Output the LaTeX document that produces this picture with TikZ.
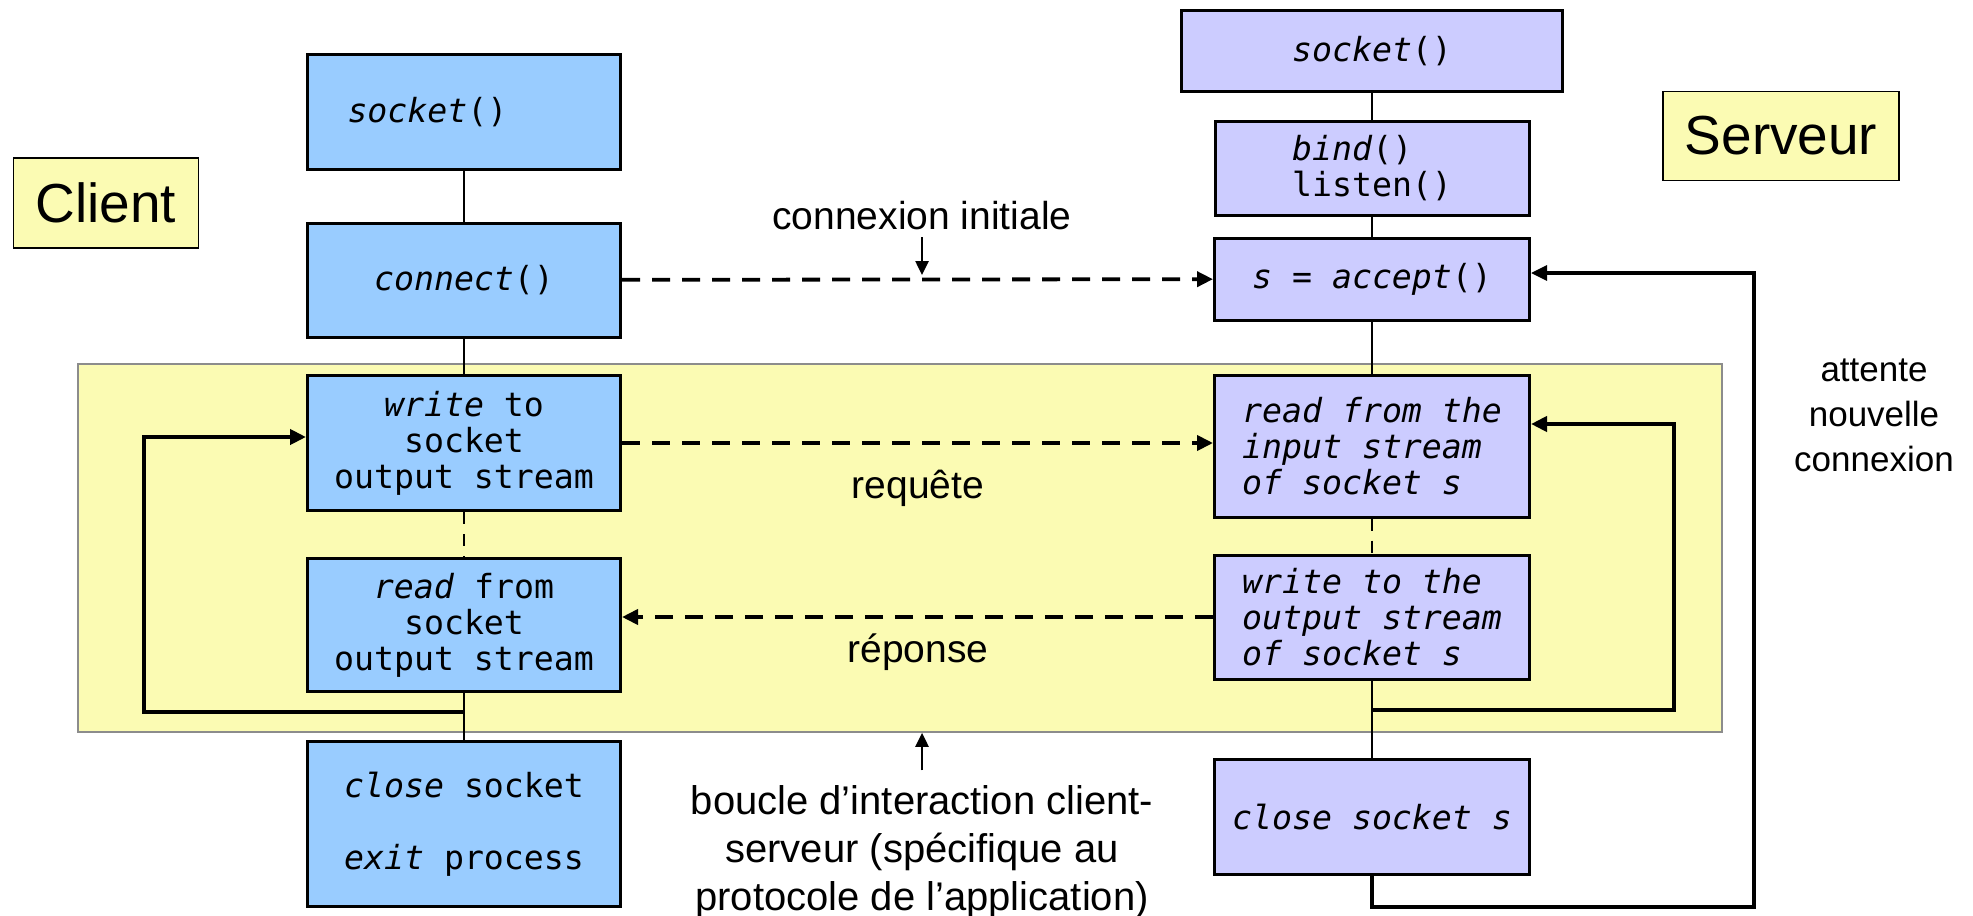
\documentclass[tikz,border=0pt]{standalone}
\usepackage{fontspec}
\setmainfont{Liberation Sans}
\newfontfamily\boxfont{DejaVu Sans Mono}
\usetikzlibrary{arrows.meta}
\definecolor{clientblue}{HTML}{99CCFF}
\definecolor{serverblue}{HTML}{CCCCFF}
\definecolor{loopyellow}{HTML}{FBFBB3}

\begin{document}
\begin{tikzpicture}[x=0.5pt,y=-0.5pt,
    box/.style={draw,line width=1.5pt,inner sep=0pt,align=center,
      font=\boxfont\fontsize{16.6}{18}\selectfont},
    cbox/.style={box,fill=clientblue,minimum width=156.5pt},
    sbox/.style={box,fill=serverblue,minimum width=157.5pt},
    tag/.style={draw,line width=0.8pt,fill=loopyellow,inner sep=0pt,
      font=\fontsize{27.5}{30}\selectfont},
    link/.style={line width=1.3pt},
    dlink/.style={line width=0.9pt,dash pattern=on 6pt off 5pt},
    msg/.style={line width=1.9pt,dash pattern=on 9pt off 6pt,
      -{Triangle[length=8pt,width=7.5pt]}},
    back/.style={line width=2pt,-{Triangle[length=8pt,width=7.5pt]}},
    lbl/.style={font=\fontsize{19.5}{23}\selectfont,align=center}]

  \useasboundingbox (0,0) rectangle (1973,915);

  \node[draw=black!45,line width=0.8pt,fill=loopyellow,
    minimum width=822pt,minimum height=184pt] (boucle) at (900,548) {};

  \node[tag,minimum width=92.5pt,minimum height=45pt] (client) at (106,203) {Client};
  \node[tag,minimum width=118pt,minimum height=44.5pt] (serveur) at (1781,136) {Serveur};

  % client
  \node[cbox,minimum height=57.5pt,text width=116.5pt,align=left] (csock) at (464,112) {\textit{socket}()};
  \node[cbox,minimum height=57pt] (ccon) at (464,280) {\textit{connect}()};
  \node[cbox,minimum height=67.5pt] (cwr) at (464,443) {\textit{write} to\\socket\\output stream};
  \node[cbox,minimum height=66.5pt] (crd) at (464,625) {\textit{read} from\\socket\\output stream};
  \node[cbox,minimum height=82.5pt] (ccl) at (464,824) {\textit{close} socket\\[18pt]\textit{exit} process};

  % serveur
  \node[sbox,minimum width=190.5pt,minimum height=40.5pt] (ssock) at (1372,51) {\textit{socket}()};
  \node[sbox,minimum width=157pt,minimum height=47pt,align=left] (sbind) at (1372,168) {\textit{bind}()\\listen()};
  \node[sbox,minimum height=41pt] (sacc) at (1372,279) {\textit{s = accept}()};
  \node[sbox,minimum height=71pt,align=left] (srd) at (1372,446) {\textit{read from the}\\\textit{input stream}\\\textit{of socket s}};
  \node[sbox,minimum height=62pt,align=left] (swr) at (1372,617) {\textit{write to the}\\\textit{output stream}\\\textit{of socket s}};
  \node[sbox,minimum height=57.5pt] (scl) at (1372,817) {\textit{close socket s}};

  \draw[link] (csock) -- (ccon);
  \draw[link] (ccon) -- (cwr);
  \draw[dlink] (cwr) -- (crd);
  \draw[link] (crd) -- (ccl);

  \draw[link] (ssock) -- (sbind);
  \draw[link] (sbind) -- (sacc);
  \draw[link] (sacc) -- (srd);
  \draw[dlink] (srd) -- (swr);
  \draw[link] (swr) -- (scl);

  \draw[msg] (ccon) -- (sacc);
  \draw[msg] (cwr.east) -- (cwr.east -| srd.west);
  \draw[msg] (swr.west) -- (swr.west -| crd.east);

  \draw[back] (crd.south) ++(0,19) -| (144,437) -- ([yshift=3pt]cwr.west);
  \draw[back] (swr.south) ++(0,29) -| (1674,424) -- ([yshift=11pt]srd.east);
  \draw[back,line width=1.6pt] (scl.south) -- ++(0,31) -| (1754,273) -- ([yshift=3pt]sacc.east);

  \node[lbl] (init) at (922,216) {connexion initiale};
  \draw[line width=1.3pt,-{Triangle[length=7pt,width=6.5pt]},shorten >=2.5pt] (init.south) -- (init.south |- ccon.east);
  \node[lbl] (req) at (918,488) {requête};
  \node[lbl] (rep) at (918,652) {réponse};
  \node[font=\fontsize{17.5}{22.5}\selectfont,align=center] (att) at (1874,415) {attente\\nouvelle\\connexion};

  \node[lbl,font=\fontsize{20}{24}\selectfont] (bt) at (922,852)
    {boucle d’interaction client-\\serveur (spécifique au\\protocole de l’application)};
  \draw[line width=1.3pt,-{Triangle[length=7pt,width=6.5pt]}] ([yshift=4pt]bt.north) -- (bt.north |- boucle.south);

\end{tikzpicture}
\end{document}
